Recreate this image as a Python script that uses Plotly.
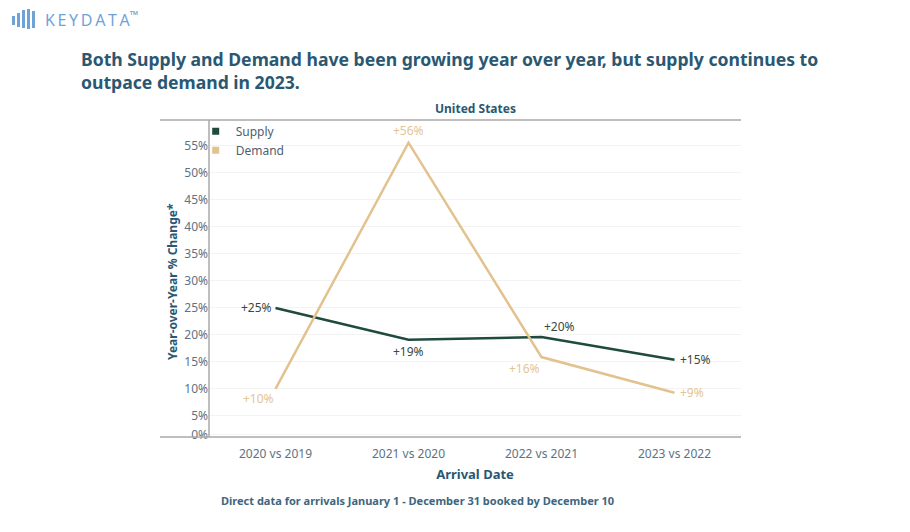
import plotly.graph_objects as go

categories = ["2020 vs 2019", "2021 vs 2020", "2022 vs 2021", "2023 vs 2022"]
supply = [25.0, 19.1, 19.6, 15.4]
demand = [10.0, 55.6, 15.9, 9.3]
supply_labels = ["+25%", "+19%", "+20%", "+15%"]
demand_labels = ["+10%", "+56%", "+16%", "+9%"]
tick_vals = [1.6, 5, 10, 15, 20, 25, 30, 35, 40, 45, 50, 55]
tick_text = ["0%", "5%", "10%", "15%", "20%", "25%", "30%", "35%", "40%", "45%", "50%", "55%"]

SUPPLY_C = "#1f4a3e"
DEMAND_C = "#e2c28e"
FONT = "Noto Sans"
TITLE_C = "#2a5873"
TICK_C = "#5d7285"

# label placement (anchor, xshift, yshift) per point
supply_place = [("right", -2, 0), ("center", 0, -12), ("left", 0, 11), ("left", 3, 0)]
demand_place = [("right", 0, -10), ("center", 0, 12), ("right", 0, -11), ("left", 3, 0)]

# plot area in page pixels (page has an 8px body offset)
PL, PT, PW, PH = 209, 120, 532, 317


def px(x):
    return (x - PL) / PW


def py(y):
    return 1 - (y - PT) / PH


fig = go.Figure()
fig.add_trace(go.Scatter(
    x=categories, y=supply, mode="lines",
    line=dict(color=SUPPLY_C, width=2.5), showlegend=False, hoverinfo="skip"))
fig.add_trace(go.Scatter(
    x=categories, y=demand, mode="lines",
    line=dict(color=DEMAND_C, width=2.5), showlegend=False, hoverinfo="skip"))
fig.add_trace(go.Scatter(x=[None], y=[None], mode="markers", name="Supply",
                         marker=dict(symbol="square", size=7, color=SUPPLY_C)))
fig.add_trace(go.Scatter(x=[None], y=[None], mode="markers", name="Demand",
                         marker=dict(symbol="square", size=7, color=DEMAND_C)))

shapes = [
    dict(type="line", xref="paper", yref="paper", x0=px(160), x1=1.0, y0=1, y1=1,
         line=dict(color="#a9a9a9", width=1.5)),
    dict(type="line", xref="paper", yref="paper", x0=px(160), x1=1.0, y0=0, y1=0,
         line=dict(color="#a9a9a9", width=1.5)),
    dict(type="line", xref="paper", yref="paper", x0=0, x1=0, y0=0, y1=1,
         line=dict(color="#a9a9a9", width=1.5)),
]
# logo bars
bar_specs = [(12, 16, 16, 25), (17, 21, 13, 27), (22, 26, 10, 28), (27, 31, 9, 29), (32, 36, 11, 28)]
for x0, x1, y0, y1 in bar_specs:
    shapes.append(dict(type="rect", xref="paper", yref="paper",
                       x0=px(x0), x1=px(x1 - 1), y0=py(y1), y1=py(y0),
                       fillcolor="#6fa3d6", line=dict(width=0)))

annotations = [
    dict(text="K\u2009E\u2009Y\u2009D\u2009A\u2009T\u2009A<sup>™</sup>", xref="paper", yref="paper",
         x=px(43), y=py(19), xanchor="left", yanchor="middle",
         showarrow=False, font=dict(family=FONT, size=16, color="#6fa3d6")),
    dict(text="<b>Both Supply and Demand have been growing year over year, but supply continues to<br>outpace demand in 2023.</b>",
         xref="paper", yref="paper", x=px(79), y=py(45),
         xanchor="left", yanchor="top", align="left", showarrow=False,
         font=dict(family=FONT, size=17.6, color=TITLE_C)),
    dict(text="<b>United States</b>", xref="paper", yref="paper", x=0.5, y=1.0,
         xanchor="center", yanchor="bottom", yshift=1, showarrow=False,
         font=dict(family=FONT, size=12, color=TITLE_C)),
    dict(text="<b>Direct data for arrivals January 1 - December 31 booked by December 10</b>",
         xref="paper", yref="paper", x=px(219), y=py(500),
         xanchor="left", yanchor="middle", showarrow=False,
         font=dict(family=FONT, size=11, color="#3d6680")),
    dict(text="<b>Year-over-Year % Change*</b>", xref="paper", yref="paper",
         x=px(172), y=py(282), textangle=-90,
         xanchor="center", yanchor="middle", showarrow=False,
         font=dict(family=FONT, size=12, color=TITLE_C)),
]

for xs, ys, labels, places, col in [
    (categories, supply, supply_labels, supply_place, "#3a4745"),
    (categories, demand, demand_labels, demand_place, "#e3c595"),
]:
    for xv, yv, lab, (anc, dx, dy) in zip(xs, ys, labels, places):
        annotations.append(dict(x=xv, y=yv, xref="x", yref="y", text=lab, showarrow=False,
                                xanchor=anc, yanchor="middle", xshift=dx, yshift=dy,
                                font=dict(family=FONT, size=12, color=col)))

fig.update_layout(
    width=910, height=532,
    margin=dict(l=PL - 8, r=910 - (PL - 8) - PW, t=PT - 8, b=532 - (PT - 8) - PH),
    paper_bgcolor="white", plot_bgcolor="white",
    font=dict(family=FONT, color=TICK_C, size=12),
    shapes=shapes, annotations=annotations,
    legend=dict(x=-0.025, y=1.01, xanchor="left", yanchor="top",
                font=dict(size=12, color="#4e6070"), bgcolor="rgba(0,0,0,0)",
                tracegroupgap=0, itemsizing="trace"),
    xaxis=dict(range=[-0.5, 3.5], showgrid=False, zeroline=False, showline=False,
               ticks="", ticklabelstandoff=8, tickfont=dict(size=12, color=TICK_C),
               title=dict(text="<b>Arrival Date</b>", font=dict(size=13, color=TITLE_C), standoff=8)),
    yaxis=dict(range=[1.1, 59.8], tickvals=tick_vals, ticktext=tick_text,
               showgrid=True, gridcolor="#f3f3f3", zeroline=False, showline=False,
               ticks="", tickfont=dict(size=12, color=TICK_C)),
)

fig.write_html("out.html")
